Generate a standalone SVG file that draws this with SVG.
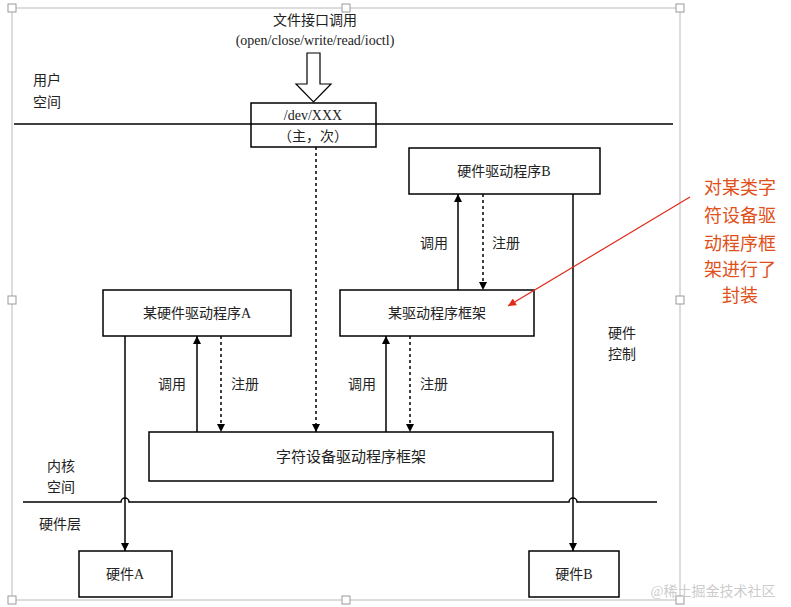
<svg xmlns="http://www.w3.org/2000/svg" width="791" height="607" viewBox="0 0 791 607">
<defs>
<marker id="ar" viewBox="0 0 10 10" refX="10" refY="5" markerWidth="8" markerHeight="10" orient="auto" markerUnits="userSpaceOnUse"><path d="M0,0 L10,5 L0,10 z" fill="#000"/></marker>
<marker id="rr" viewBox="0 0 10 10" refX="10" refY="5" markerWidth="10" markerHeight="8" orient="auto" markerUnits="userSpaceOnUse"><path d="M0,0 L10,5 L0,10 z" fill="#e02a1a"/></marker>
</defs>
<style>
text{font-family:"Liberation Serif","Noto Sans CJK SC",serif;font-size:14px;fill:#222;text-anchor:middle}
.box{fill:#fff;stroke:#000;stroke-width:1.5}
.s{stroke:#000;stroke-width:1.5;fill:none}
.d{stroke:#000;stroke-width:1.5;fill:none;stroke-dasharray:3,3}
.red{font-family:"Noto Sans CJK SC",sans-serif;font-size:18px;fill:#e0501a}
.h{fill:#fff;stroke:#999;stroke-width:1}
</style>
<rect width="791" height="607" fill="#fff"/>
<rect x="12" y="8" width="668" height="592" fill="none" stroke="#bbb" stroke-width="1"/>
<g><rect class="h" x="8" y="4" width="8" height="8"/><rect class="h" x="342" y="4" width="8" height="8"/><rect class="h" x="676" y="4" width="8" height="8"/><rect class="h" x="8" y="296" width="8" height="8"/><rect class="h" x="676" y="296" width="8" height="8"/><rect class="h" x="8" y="596" width="8" height="8"/><rect class="h" x="342" y="596" width="8" height="8"/><rect class="h" x="676" y="596" width="8" height="8"/></g>
<text x="315" y="25">文件接口调用</text>
<text x="315" y="45">(open/close/write/read/ioctl)</text>
<path d="M307,53 H320 V84 H331 L313.5,102 L296,84 H307 Z" fill="#fff" stroke="#000" stroke-width="1.2"/>
<text x="47" y="85">用户</text><text x="47" y="107">空间</text>
<text x="61" y="471">内核</text><text x="61" y="492">空间</text>
<text x="60" y="529">硬件层</text>
<text x="622" y="338">硬件</text><text x="622" y="359">控制</text>
<g id="dev"><rect class="box" x="251" y="103" width="125" height="44"/><text x="313" y="120">/dev/XXX</text><text x="313" y="141">（主，次）</text></g>
<g id="drvB"><rect class="box" x="409" y="148" width="191" height="46"/><text x="504" y="176">硬件驱动程序B</text></g>
<g id="drvA"><rect class="box" x="103" y="290" width="188" height="46"/><text x="197" y="318">某硬件驱动程序A</text></g>
<g id="fw"><rect class="box" x="340" y="290" width="194" height="46"/><text x="437" y="318">某驱动程序框架</text></g>
<g id="chr"><rect class="box" x="149" y="432" width="404" height="49"/><text x="351" y="462" style="font-size:15px">字符设备驱动程序框架</text></g>
<g id="hwA"><rect class="box" x="79" y="551" width="93" height="46"/><text x="125" y="579">硬件A</text></g>
<g id="hwB"><rect class="box" x="529" y="551" width="90" height="46"/><text x="574" y="579">硬件B</text></g>
<g id="connectors">
<line class="s" x1="14" y1="124" x2="673" y2="124"/>
<path class="s" d="M23,502 H121 a4,4 0 0 1 8,0 H569 a4,4 0 0 1 8,0 H657" stroke-width="2"/>
<line class="d" x1="316" y1="147" x2="316" y2="432" marker-end="url(#ar)"/>
<line class="s" x1="197" y1="432" x2="197" y2="336" marker-end="url(#ar)"/>
<line class="d" x1="221" y1="336" x2="221" y2="432" marker-end="url(#ar)"/>
<line class="s" x1="386" y1="432" x2="386" y2="336" marker-end="url(#ar)"/>
<line class="d" x1="410" y1="336" x2="410" y2="432" marker-end="url(#ar)"/>
<line class="s" x1="458" y1="290" x2="458" y2="194" marker-end="url(#ar)"/>
<line class="d" x1="483" y1="194" x2="483" y2="290" marker-end="url(#ar)"/>
<line class="s" x1="125" y1="336" x2="125" y2="551" marker-end="url(#ar)"/>
<line class="s" x1="573" y1="194" x2="573" y2="551" marker-end="url(#ar)"/>
<line x1="690" y1="197" x2="508" y2="306" stroke="#e02a1a" stroke-width="1.2" marker-end="url(#rr)"/>
<text x="172" y="389">调用</text><text x="245" y="389">注册</text>
<text x="362" y="389">调用</text><text x="434" y="389">注册</text>
<text x="434" y="248">调用</text><text x="506" y="248">注册</text>
</g>
<g id="note"><text class="red" x="740" y="194">对某类字</text><text class="red" x="740" y="222">符设备驱</text><text class="red" x="740" y="250">动程序框</text><text class="red" x="740" y="276">架进行了</text><text class="red" x="740" y="302">封装</text></g>
<text x="713" y="596" style="font-size:14px;fill:#ccc">@稀土掘金技术社区</text>
</svg>
